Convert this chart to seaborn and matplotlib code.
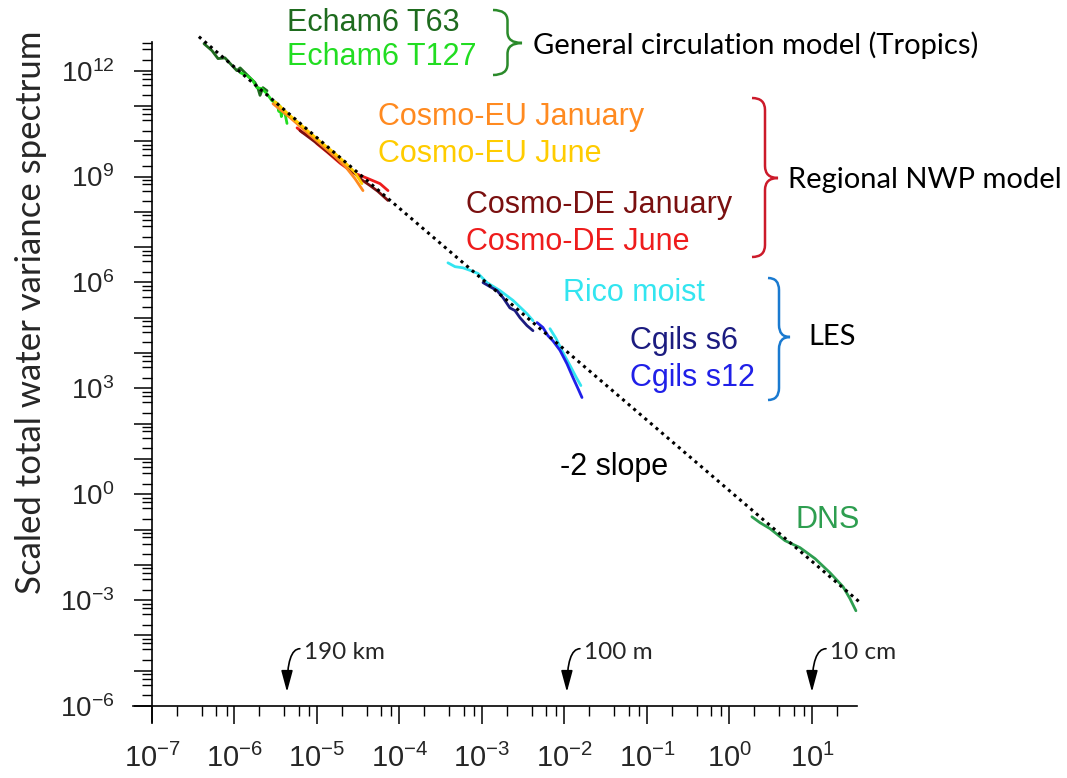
import numpy as np
import pandas as pd
import matplotlib
matplotlib.use('Agg')
import matplotlib.pyplot as plt
import seaborn as sns
from matplotlib.path import Path
from matplotlib.patches import PathPatch
from matplotlib.ticker import FixedLocator, FuncFormatter, NullFormatter

sns.set_style('ticks')
plt.rcParams['font.family'] = ['Liberation Sans', 'DejaVu Sans']
plt.rcParams['mathtext.fontset'] = 'custom'
plt.rcParams['mathtext.rm'] = 'Liberation Sans'
plt.rcParams['mathtext.it'] = 'Liberation Sans:italic'
plt.rcParams['mathtext.bf'] = 'Liberation Sans:bold'

# ---------------- data (wavenumber k, scaled spectrum s) ----------------
echam_t63_k = [4.27e-7, 5.33e-7, 6.31e-7, 7.67e-7, 9.33e-7, 1.07e-6, 1.17e-6,
               1.54e-6, 1.77e-6, 1.93e-6, 2.04e-6, 2.21e-6, 2.48e-6]
echam_t63_s = [5.8e12, 3.7e12, 2.2e12, 2.3e12, 1.4e12, 1.0e12, 1.2e12,
               6.3e11, 4.6e11, 3.1e11, 2.0e11, 3.3e11, 2.7e11]

echam_t127_k = [1.17e-6, 1.42e-6, 1.67e-6, 1.87e-6, 2.15e-6, 2.48e-6, 2.85e-6,
                3.27e-6, 3.45e-6, 3.56e-6, 3.7e-6, 3.87e-6, 4.1e-6, 4.33e-6]
echam_t127_s = [8.8e11, 7.2e11, 5.2e11, 3.3e11, 3.1e11, 2.2e11, 1.4e11,
                1.2e11, 7.0e10, 1.0e11, 5.0e10, 8.0e10, 6.0e10, 3.2e10]

cosmo_eu_jan_k = [2.93e-6, 4.71e-6, 7.16e-6, 1.09e-5, 1.65e-5, 2.18e-5, 2.89e-5, 3.61e-5]
cosmo_eu_jan_s = [1.16e11, 4.7e10, 2.0e10, 8.6e9, 3.7e9, 2.0e9, 8.7e8, 4.0e8]

cosmo_eu_jun_k = [3.10e-6, 4.71e-6, 7.16e-6, 1.09e-5, 1.65e-5, 2.18e-5, 2.89e-5, 3.51e-5]
cosmo_eu_jun_s = [1.32e11, 5.3e10, 2.3e10, 9.8e9, 4.5e9, 2.5e9, 1.3e9, 6.3e8]

cosmo_de_jan_k = [6.22e-6, 1.09e-5, 1.90e-5, 2.89e-5, 3.51e-5, 4.38e-5, 5.48e-5, 7.26e-5]
cosmo_de_jan_s = [2.0e10, 7.5e9, 2.6e9, 1.2e9, 8.0e8, 5.6e8, 3.8e8, 2.1e8]

cosmo_de_jun_k = [5.73e-6, 6.76e-6, 8.22e-6, 1.0e-5, 1.32e-5, 1.90e-5, 2.73e-5,
                  4.04e-5, 5.81e-5, 7.26e-5]
cosmo_de_jun_s = [2.4e10, 1.75e10, 1.5e10, 8.5e9, 5.0e9, 2.4e9, 1.3e9,
                  9.0e8, 6.3e8, 4.0e8]

rico_a_k = [3.87e-4, 4.71e-4, 5.89e-4, 7.16e-4, 8.95e-4, 1.15e-3, 1.65e-3,
            2.38e-3, 3.51e-3, 4.15e-3]
rico_a_s = [3.6e6, 2.8e6, 2.6e6, 2.2e6, 1.8e6, 9.9e5, 5.9e5, 3.1e5, 1.3e5, 8.3e4]
rico_b_k = [6.67e-3, 7.89e-3, 9.59e-3, 1.17e-2, 1.38e-2, 1.58e-2]
rico_b_s = [4.9e4, 2.6e4, 1.03e4, 4.4e3, 2.1e3, 1.2e3]

cgils_s6_k = [1.03e-3, 1.25e-3, 1.52e-3, 1.80e-3, 2.18e-3, 2.51e-3, 2.89e-3, 3.51e-3, 4.15e-3]
cgils_s6_s = [9.9e5, 7.6e5, 5.9e5, 3.7e5, 1.9e5, 1.6e5, 1.0e5, 6.0e4, 4.3e4]

cgils_s12_k = [4.65e-3, 5.48e-3, 6.31e-3, 7.26e-3, 8.81e-3, 1.07e-2, 1.27e-2, 1.46e-2, 1.63e-2]
cgils_s12_s = [7.3e4, 5.3e4, 3.1e4, 2.2e4, 1.2e4, 5.0e3, 2.0e3, 9.8e2, 5.5e2]

dns_k = [1.87, 2.34, 3.10, 4.71, 7.16, 10.9, 16.5, 23.8, 28.9, 34.1]
dns_s = [0.23, 0.157, 0.106, 0.0485, 0.0307, 0.015, 6.0e-3, 2.4e-3, 1.1e-3, 5.0e-4]

slope_k = [3.7e-7, 38.0]
slope_s = [9.2e12, 8.7e-4]

marker_k = [4.33e-6, 1.07e-2, 10.0]
marker_start_k = [6.2e-6, 1.54e-2, 14.8]
marker_labels = ['190 km', '100 m', '10 cm']

y_tick_exp = list(range(-6, 13))
x_tick_exp = list(range(-7, 2))

# ---------------- figure ----------------
W, H = 1067, 778
fig = plt.figure(figsize=(W / 100, H / 100), dpi=100)
ax = fig.add_axes([0.1038, 0.0653, 0.7113, 0.8983])

series = [
    (echam_t63_k, echam_t63_s, '#1e6b1e'),
    (echam_t127_k, echam_t127_s, '#22dd22'),
    (cosmo_de_jun_k, cosmo_de_jun_s, '#ee1c1c'),
    (cosmo_de_jan_k, cosmo_de_jan_s, '#7a1010'),
    (cosmo_eu_jan_k, cosmo_eu_jan_s, '#ff8a20'),
    (cosmo_eu_jun_k, cosmo_eu_jun_s, '#ffcc00'),
    (rico_a_k, rico_a_s, '#33e5f0'),
    (cgils_s6_k, cgils_s6_s, '#1c1c80'),
    (rico_b_k, rico_b_s, '#33e5f0'),
    (cgils_s12_k, cgils_s12_s, '#2020e8'),
    (dns_k, dns_s, '#2e9e50'),
]
for k, s, c in series:
    df = pd.DataFrame({'k': k, 's': s})
    sns.lineplot(data=df, x='k', y='s', color=c, lw=2.0, ax=ax,
                 sort=False, estimator=None)

sns.lineplot(x=slope_k, y=slope_s, color='black', lw=2.2, ax=ax,
             linestyle=(0, (1, 1.4)), sort=False, estimator=None)

ax.set_xscale('log')
ax.set_yscale('log')
ax.set_xlim(10 ** -7.5, 10 ** 1.7)
ax.set_ylim(10 ** -6.6, 10 ** 13.2)
ax.set_xlabel('')
ax.set_ylabel('')

for sp in ['top', 'right']:
    ax.spines[sp].set_visible(False)
ax.spines['left'].set_position(('data', 1e-7))
ax.spines['bottom'].set_position(('data', 1e-6))
ax.spines['left'].set_bounds(10 ** -6.45, 10 ** 12.8)
ax.spines['bottom'].set_bounds(10 ** -7.23, 10 ** 1.545)
for sp in ['left', 'bottom']:
    ax.spines[sp].set_linewidth(1.2)
    ax.spines[sp].set_color('black')

ax.xaxis.set_major_locator(FixedLocator([10.0 ** e for e in x_tick_exp]))
ax.yaxis.set_major_locator(FixedLocator([10.0 ** e for e in y_tick_exp]))
x_minor = [m * 10.0 ** e for e in x_tick_exp for m in (2, 4, 6, 8) if m * 10.0 ** e < 10 ** 1.54]
y_minor = [m * 10.0 ** e for e in y_tick_exp for m in (2, 4, 6, 8) if m * 10.0 ** e < 10 ** 12.79]
ax.xaxis.set_minor_locator(FixedLocator(x_minor))
ax.yaxis.set_minor_locator(FixedLocator(y_minor))
ax.xaxis.set_minor_formatter(NullFormatter())
ax.yaxis.set_minor_formatter(NullFormatter())


def xfmt(v, pos):
    e = int(round(np.log10(v)))
    return r'$\mathdefault{10^{%d}}$' % e


def yfmt(v, pos):
    e = int(round(np.log10(v)))
    return r'$\mathdefault{10^{%d}}$' % e if e % 3 == 0 else ''


ax.xaxis.set_major_formatter(FuncFormatter(xfmt))
ax.yaxis.set_major_formatter(FuncFormatter(yfmt))
ax.tick_params(axis='both', which='major', length=13, width=1.1, color='black', direction='out')
ax.tick_params(axis='both', which='minor', length=7, width=1.0, color='black', direction='out')
ax.tick_params(axis='x', which='major', labelsize=21, pad=14)
ax.tick_params(axis='y', which='major', labelsize=20, pad=14)


def px(x, y):
    return (x / W, 1 - y / H)


# y label
fig.text(*px(31, 312), 'Scaled total water variance spectrum', rotation=90,
         ha='center', va='center', fontsize=25, family=['Lato', 'DejaVu Sans'])

# series labels
labels = [
    ('Echam6 T63', 287, 23, '#1e6b1e'),
    ('Echam6 T127', 287, 57, '#22dd22'),
    ('Cosmo-EU January', 378, 117, '#ff8a20'),
    ('Cosmo-EU June', 378, 154, '#ffcc00'),
    ('Cosmo-DE January', 466, 205, '#7a1010'),
    ('Cosmo-DE June', 466, 242, '#ee1c1c'),
    ('Rico moist', 563, 293, '#33e5f0'),
    ('Cgils s6', 630, 341, '#1c1c80'),
    ('Cgils s12', 630, 378, '#2020e8'),
    ('-2 slope', 560, 467, 'black'),
    ('DNS', 796, 520, '#2e9e50'),
]
for t, x, y, c in labels:
    fig.text(*px(x, y), t, color=c, fontsize=22, ha='left', va='center')

groups = [
    ('General circulation model (Tropics)', 533, 45),
    ('Regional NWP model', 788, 180),
    ('LES', 808, 337),
]
for t, x, y in groups:
    fig.text(*px(x, y), t, color='black', fontsize=21, ha='left', va='center',
             family=['Lato', 'DejaVu Sans'])


def brace(x0, x1, y0, y1, ym, color):
    xm = (x0 + x1) / 2
    r = min(12, (y1 - y0) / 6)
    pts = [(x0, y0), (xm, y0), (xm, y0 + r), (xm, ym - r), (xm, ym), (x1, ym),
           (xm, ym), (xm, ym + r), (xm, y1 - r), (xm, y1), (x0, y1)]
    codes = [Path.MOVETO, Path.CURVE3, Path.CURVE3, Path.LINETO, Path.CURVE3, Path.CURVE3,
             Path.CURVE3, Path.CURVE3, Path.LINETO, Path.CURVE3, Path.CURVE3]
    verts = [px(a, b) for a, b in pts]
    patch = PathPatch(Path(verts, codes), transform=fig.transFigure, fill=False,
                      edgecolor=color, lw=1.8)
    fig.patches.append(patch)


brace(493, 522, 10, 75, 43, '#2a8a2a')
brace(752, 778, 98, 257, 178, '#cc1a2a')
brace(768, 790, 278, 400, 337, '#1a7ad0')

# scale markers
for k_tip, k_start, lab in zip(marker_k, marker_start_k, marker_labels):
    ax.annotate('', xy=(k_tip, 2.5e-6), xytext=(k_start, 4.2e-5),
                arrowprops=dict(arrowstyle='-|>,head_length=1.3,head_width=0.35',
                                color='black', lw=1.2, shrinkA=0, shrinkB=0,
                                connectionstyle='angle3,angleA=180,angleB=90'))
    ax.annotate(lab, xy=(k_start, 4.2e-5), xytext=(3, -3), textcoords='offset points',
                ha='left', va='center', fontsize=17.5, family=['Lato', 'DejaVu Sans'])

fig.savefig('out.png', dpi=100)
